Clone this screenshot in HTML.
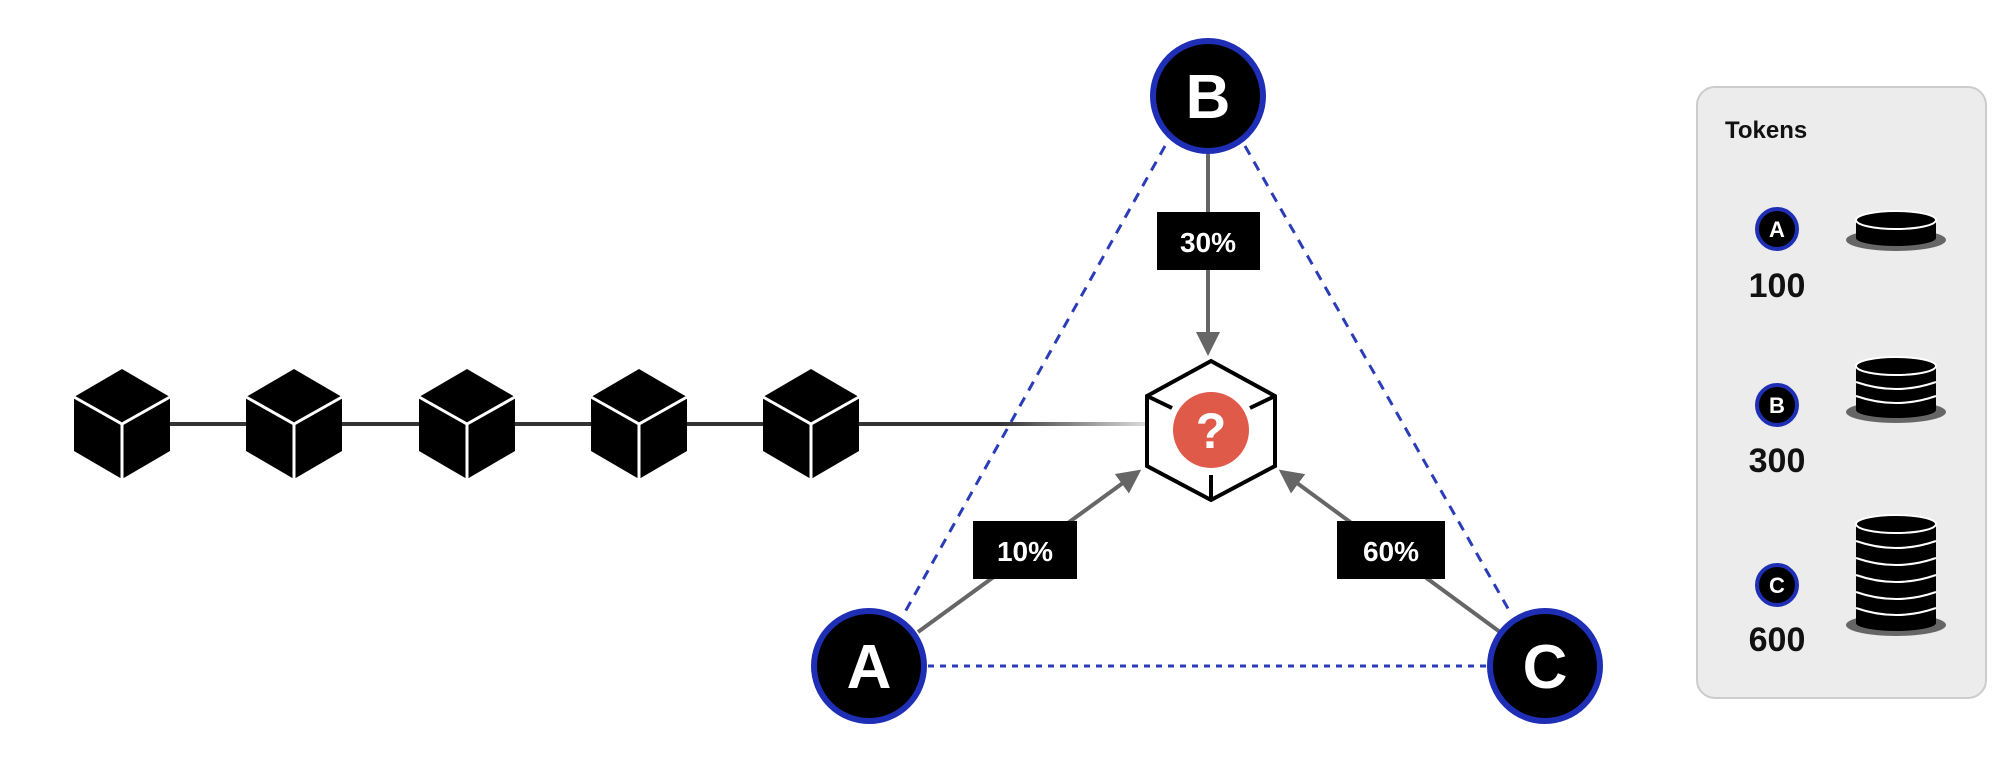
<!DOCTYPE html>
<html><head><meta charset="utf-8"><style>
html,body{margin:0;padding:0;background:#fff;width:2016px;height:772px;overflow:hidden}
svg{display:block}
text{font-family:"Liberation Sans",sans-serif;font-weight:bold}
</style></head><body>
<svg width="2016" height="772" viewBox="0 0 2016 772" xmlns="http://www.w3.org/2000/svg">
<defs>
<linearGradient id="fade" gradientUnits="userSpaceOnUse" x1="1000" y1="0" x2="1147" y2="0">
<stop offset="0" stop-color="#333"/><stop offset="1" stop-color="#ddd"/></linearGradient>
<marker id="ar" markerWidth="6" markerHeight="6" refX="5" refY="3" orient="auto" markerUnits="strokeWidth">
<path d="M0,0 L6,3 L0,6 Z" fill="#666"/></marker>
<g id="cube">
<polygon points="0,-55 48,-27 48,27 0,55 -48,27 -48,-27" fill="#000"/>
<polyline points="-48,-27 0,0 48,-27" fill="none" stroke="#fff" stroke-width="3"/>
<line x1="0" y1="0" x2="0" y2="55" stroke="#fff" stroke-width="3"/>
</g>
</defs>
<line x1="122" y1="424" x2="1000" y2="424" stroke="#333" stroke-width="4"/>
<rect x="1000" y="422" width="147" height="4" fill="url(#fade)"/>
<use href="#cube" x="122" y="424"/>
<use href="#cube" x="294" y="424"/>
<use href="#cube" x="467" y="424"/>
<use href="#cube" x="639" y="424"/>
<use href="#cube" x="811" y="424"/>
<g stroke="#2a3cb8" stroke-width="3" stroke-dasharray="10,8" fill="none">
<line x1="1165" y1="146" x2="905" y2="612"/>
<line x1="1245" y1="146" x2="1510" y2="612"/>
<line x1="928" y1="666" x2="1488" y2="666" stroke-dasharray="6,6"/>
</g>
<g stroke="#666" stroke-width="4" fill="none">
<line x1="1208" y1="154" x2="1208" y2="352" marker-end="url(#ar)"/>
<line x1="918" y1="632" x2="1138" y2="472" marker-end="url(#ar)"/>
<line x1="1500" y1="632" x2="1282" y2="472" marker-end="url(#ar)"/>
</g>
<polygon points="1211,361 1275,396 1275,466 1211,500 1147,466 1147,396" fill="#fff" stroke="#000" stroke-width="4"/>
<line x1="1147" y1="396" x2="1172" y2="408" stroke="#000" stroke-width="4"/>
<line x1="1275" y1="396" x2="1250" y2="408" stroke="#000" stroke-width="4"/>
<line x1="1211" y1="500" x2="1211" y2="475" stroke="#000" stroke-width="4"/>
<circle cx="1211" cy="430" r="38" fill="#e05a4a"/>
<text x="1211" y="448" font-size="50" fill="#fff" text-anchor="middle">?</text>
<rect x="1157" y="212" width="103" height="58" fill="#000"/>
<text x="1208" y="252" font-size="28" fill="#fff" text-anchor="middle">30%</text>
<rect x="973" y="521" width="104" height="58" fill="#000"/>
<text x="1025" y="561" font-size="28" fill="#fff" text-anchor="middle">10%</text>
<rect x="1337" y="521" width="108" height="58" fill="#000"/>
<text x="1391" y="561" font-size="28" fill="#fff" text-anchor="middle">60%</text>
<g stroke="#1f2fb5" stroke-width="6" fill="#000">
<circle cx="1208" cy="96" r="55"/>
<circle cx="869" cy="666" r="55"/>
<circle cx="1545" cy="666" r="55"/>
</g>
<g font-size="62" fill="#fff" text-anchor="middle">
<text x="1208" y="118">B</text>
<text x="869" y="688">A</text>
<text x="1545" y="688">C</text>
</g>
<rect x="1697" y="87" width="289" height="611" rx="18" fill="#ececec" stroke="#ccc" stroke-width="2"/>
<text x="1725" y="138" font-size="24" fill="#111">Tokens</text>
<g stroke="#1f2fb5" stroke-width="4" fill="#000">
<circle cx="1777" cy="229" r="20"/><circle cx="1777" cy="405" r="20"/><circle cx="1777" cy="585" r="20"/>
</g>
<g font-size="22" fill="#fff" text-anchor="middle">
<text x="1777" y="237">A</text><text x="1777" y="413">B</text><text x="1777" y="593">C</text>
</g>
<g font-size="34" fill="#111" text-anchor="middle">
<text x="1777" y="297">100</text><text x="1777" y="472">300</text><text x="1777" y="651">600</text>
</g>
<g>
<ellipse cx="1896" cy="240" rx="50" ry="11" fill="#666"/>
<rect x="1856" y="220" width="80" height="18" fill="#000"/>
<ellipse cx="1896" cy="238" rx="40" ry="8" fill="#000"/>
<ellipse cx="1896" cy="220" rx="40" ry="9" fill="#000" stroke="#fff" stroke-width="2"/>
</g>
<g>
<ellipse cx="1896" cy="412" rx="50" ry="11" fill="#666"/>
<rect x="1856" y="366" width="80" height="44" fill="#000"/>
<ellipse cx="1896" cy="410" rx="40" ry="8" fill="#000"/>
<path d="M1856,396 q40,14 80,0 M1856,382 q40,14 80,0" stroke="#fff" stroke-width="2" fill="none"/>
<ellipse cx="1896" cy="366" rx="40" ry="9" fill="#000" stroke="#fff" stroke-width="2"/>
</g>
<g>
<ellipse cx="1896" cy="625" rx="50" ry="11" fill="#666"/>
<rect x="1856" y="524" width="80" height="99" fill="#000"/>
<ellipse cx="1896" cy="623" rx="40" ry="8" fill="#000"/>
<path d="M1856,608 q40,14 80,0 M1856,592 q40,14 80,0 M1856,575 q40,14 80,0 M1856,558 q40,14 80,0 M1856,541 q40,14 80,0" stroke="#fff" stroke-width="2" fill="none"/>
<ellipse cx="1896" cy="524" rx="40" ry="9" fill="#000" stroke="#fff" stroke-width="2"/>
</g>
</svg>
</body></html>
